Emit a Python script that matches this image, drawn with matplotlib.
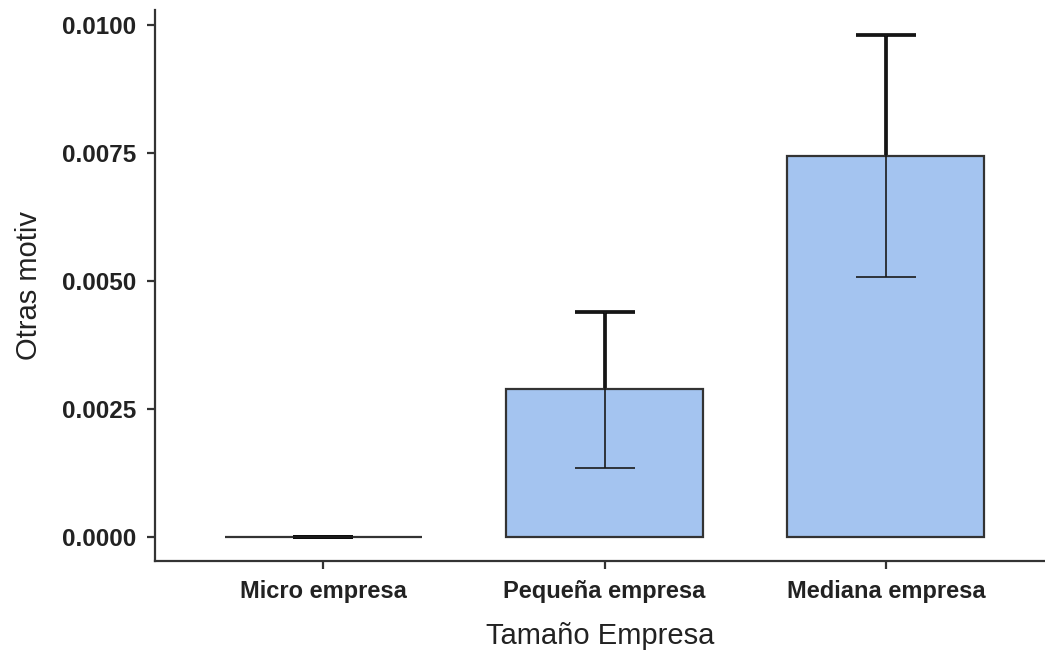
import matplotlib
matplotlib.use("Agg")
import matplotlib.pyplot as plt
import numpy as np

categories = ["Micro empresa", "Pequeña empresa", "Mediana empresa"]
means = [0.0, 0.002891, 0.007441]
ci_low = [0.0, 0.001342, 0.005084]
ci_high = [0.0, 0.004400, 0.009805]
yticks = [0.0, 0.0025, 0.0050, 0.0075, 0.0100]
ytick_labels = ["0.0000", "0.0025", "0.0050", "0.0075", "0.0100"]

plt.rcParams['font.family'] = ['Liberation Sans', 'DejaVu Sans']

fig = plt.figure(figsize=(10.45, 6.54), dpi=100)
ax = fig.add_axes([155/1045, 93/654, 890/1045, 551/654])

x = np.arange(len(categories))
means_a = np.array(means)
yerr = np.vstack([means_a - np.array(ci_low), np.array(ci_high) - means_a])

# thick error bars behind the bars
ax.errorbar(x, means_a, yerr=yerr, fmt='none', ecolor='black', elinewidth=2.6,
            capsize=21.5, capthick=2.6, zorder=1)
ax.bar(x, means_a, width=0.70, color='#a4c4f0', edgecolor='#333333', linewidth=1.6, zorder=2)
# thin error bars on top
ax.errorbar(x, means_a, yerr=yerr, fmt='none', ecolor='#1a1a1a', elinewidth=1.4,
            capsize=21.5, capthick=1.4, zorder=3, alpha=0.85)

ax.set_xlim(-0.597, 2.565)
ax.set_ylim(-0.000469, 0.010293)
ax.set_xticks(x)
ax.set_xticklabels(categories, fontsize=17, fontweight='bold', color='#222222')
ax.set_yticks(yticks)
ax.set_yticklabels(ytick_labels, fontsize=17.5, fontweight='bold', color='#222222')

for s in ['top', 'right']:
    ax.spines[s].set_visible(False)
for s in ['left', 'bottom']:
    ax.spines[s].set_linewidth(1.6)
    ax.spines[s].set_color('#333333')
ax.tick_params(axis='both', length=5.5, width=1.6, color='#333333')
ax.tick_params(axis='y', pad=8)
ax.tick_params(axis='x', pad=8)

ax.set_xlabel("Tamaño Empresa", fontsize=21, color='#222222', labelpad=14)
ax.set_ylabel("Otras motiv", fontsize=21, color='#222222', labelpad=14)

fig.savefig("out.png", dpi=100)
